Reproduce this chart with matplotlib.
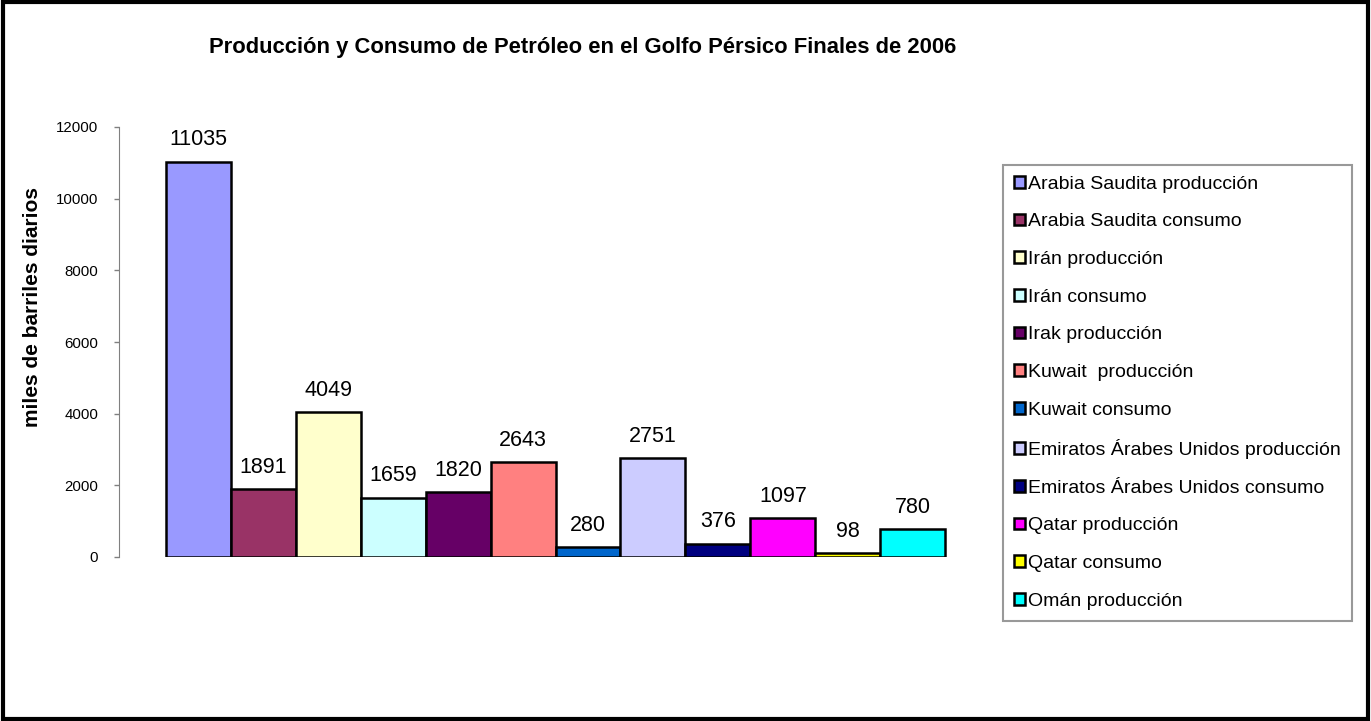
import matplotlib.pyplot as plt
from matplotlib.patches import Rectangle

plt.rcParams['font.family'] = ['Liberation Sans', 'DejaVu Sans']

series = ['Arabia Saudita producción', 'Arabia Saudita consumo', 'Irán producción',
          'Irán consumo', 'Irak producción', 'Kuwait  producción', 'Kuwait consumo',
          'Emiratos Árabes Unidos producción', 'Emiratos Árabes Unidos consumo',
          'Qatar producción', 'Qatar consumo', 'Omán producción']
values = [11035, 1891, 4049, 1659, 1820, 2643, 280, 2751, 376, 1097, 98, 780]
colors = ['#9999FF', '#993366', '#FFFFCC', '#CCFFFF', '#660066', '#FF8080',
          '#0066CC', '#CCCCFF', '#000080', '#FF00FF', '#FFFF00', '#00FFFF']
yticks = [0, 2000, 4000, 6000, 8000, 10000, 12000]

W, H = 1371, 721
fig = plt.figure(figsize=(W / 100, H / 100), dpi=100)
ax = fig.add_axes([119 / W, 1 - 557 / H, (992 - 119) / W, (557 - 127) / H])

for i, (name, v, c) in enumerate(zip(series, values, colors)):
    ax.bar(i, v, width=1.0, color=c, edgecolor='black', linewidth=1.8, label=name)
    ax.annotate(str(v), (i, v), xytext=(0, 8), textcoords='offset points',
                ha='center', va='bottom', fontsize=15.5)

ax.set_xlim(-1.22, 12.22)
ax.set_ylim(0, 12000)
ax.set_yticks(yticks)
ax.set_xticks([])
ax.tick_params(axis='y', direction='out', length=3.6, width=1, color='#808080',
               labelsize=10.8, pad=11.5)
for s in ['top', 'right', 'bottom']:
    ax.spines[s].set_visible(False)
ax.spines['left'].set_color('#808080')

fig.text(33 / W, 1 - 307 / H, 'miles de barriles diarios', rotation=90,
         fontsize=15, fontweight='bold', ha='center', va='center')
fig.text(583 / W, 1 - 48 / H,
         'Producción y Consumo de Petróleo en el Golfo Pérsico Finales de 2006',
         fontsize=15.8, fontweight='bold', ha='center', va='center')

leg = fig.legend(loc='upper left', bbox_to_anchor=(1003 / W, 1 - 165 / H),
                 frameon=True, fancybox=False, fontsize=14, handlelength=0.55,
                 handleheight=0.55, handletextpad=0.2, labelspacing=1.06,
                 borderaxespad=0, borderpad=0.56, edgecolor='#808080')
leg.get_frame().set_linewidth(1.5)

fig.patches.append(Rectangle((0.002, 0.003), 0.996, 0.994, transform=fig.transFigure,
                             fill=False, edgecolor='black', linewidth=3))

fig.savefig('out.png', dpi=100)
